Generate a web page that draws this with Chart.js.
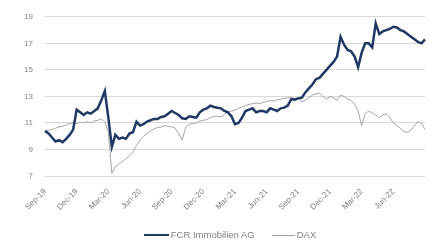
<!DOCTYPE html>
<html>
<head>
<meta charset="utf-8">
<script src="https://cdn.jsdelivr.net/npm/chart.js@4"></script>
<style>
  html, body { margin: 0; padding: 0; background: #fff; }
  #wrap { position: relative; width: 435px; height: 242px; }
  #legenda {
    position: absolute; left: 0; top: 228px; width: 435px; height: 14px;
    display: flex; justify-content: center; align-items: center;
    padding-left: 25px; box-sizing: border-box;
    font: 9.5px 'Liberation Sans', Arial, sans-serif; color: #808080;
    line-height: 14px; white-space: nowrap;
  }
  .item { display: flex; align-items: center; }
  .item + .item { margin-left: 17px; }
  .garis { display: inline-block; margin-right: 2px; }
</style>
</head>
<body>
<div id="wrap">
  <canvas id="fcrChart" width="435" height="242"></canvas>
  <div id="legenda"></div>
</div>
<script>
// quarterly tick labels (every 9th point, ~3 points per month)
var tickLabels = ['Sep-19', 'Dec-19', 'Mar-20', 'Jun-20', 'Sep-20', 'Dec-20',
                  'Mar-21', 'Jun-21', 'Sep-21', 'Dec-21', 'Mar-22', 'Jun-22'];

// FCR Immobilien AG share price (EUR)
var fcrWerte = [
  10.4, 10.2, 9.9, 9.6, 9.7, 9.55, 9.8, 10.1, 10.5,
  12.0, 11.8, 11.6, 11.8, 11.7, 11.9, 12.1, 12.7, 13.4,
  11.4, 9.2, 10.1, 9.8, 9.9, 9.8, 10.2, 10.3, 11.1,
  10.8, 10.9, 11.1, 11.2, 11.3, 11.3, 11.45, 11.5, 11.7,
  11.9, 11.75, 11.6, 11.35, 11.3, 11.5, 11.45, 11.4, 11.8,
  12.0, 12.1, 12.3, 12.2, 12.15, 12.1, 11.9, 11.8, 11.5,
  10.9, 11.0, 11.4, 11.9, 12.0, 12.1, 11.8, 11.9, 11.9,
  11.8, 12.1, 12.0, 11.9, 12.1, 12.15, 12.3, 12.8, 12.75,
  12.85, 12.9, 13.3, 13.6, 13.9, 14.3, 14.4, 14.7, 15.0,
  15.3, 15.6, 16.0, 17.5, 16.9, 16.5, 16.4, 16.0, 15.2,
  16.3, 17.0, 17.0, 16.7, 18.5, 17.7, 17.9, 18.0, 18.1,
  18.25, 18.2, 18.0, 17.9, 17.7, 17.5, 17.3, 17.1, 17.0,
  17.3
];

// DAX, rebased to the FCR start value
var daxWerte = [
  10.4, 10.45, 10.5, 10.6, 10.7, 10.75, 10.85, 10.95, 11.0,
  10.95, 11.05, 11.0, 11.1, 11.0, 11.15, 11.2, 11.3, 11.1,
  10.3, 7.2, 7.7, 7.9, 8.1, 8.3, 8.5, 8.8, 9.3,
  9.7, 10.0, 10.2, 10.4, 10.55, 10.65, 10.7, 10.8, 10.75,
  10.7, 10.6, 10.2, 9.7, 10.7, 10.9, 10.95, 11.0, 11.15,
  11.2, 11.25, 11.4, 11.5, 11.5, 11.45, 11.65, 11.8, 11.9,
  11.95, 12.1, 12.2, 12.3, 12.4, 12.45, 12.5, 12.45, 12.55,
  12.6, 12.7, 12.65, 12.75, 12.8, 12.85, 12.9, 12.9, 12.85,
  12.9, 12.6, 12.7, 12.9, 13.1, 13.2, 13.25, 13.0, 12.8,
  13.0, 12.9, 12.7, 13.1, 13.0, 12.8, 12.7, 12.4, 11.9,
  10.8, 11.7, 11.9, 11.75, 11.6, 11.4, 11.6, 11.7, 11.4,
  11.0, 10.8, 10.6, 10.35, 10.3, 10.45, 10.8, 11.1, 11.0,
  10.5
];

var labelPerTick = 9;
var sumbuX = fcrWerte.map(function (_, i) {
  return (i % labelPerTick === 0 && tickLabels[i / labelPerTick]) ? tickLabels[i / labelPerTick] : '';
});

var fontFamili = "'Liberation Sans', Arial, sans-serif";
var warnaTeks = '#808080';

var fcrChart = new Chart(document.getElementById('fcrChart'), {
    type: 'line',
    data: {
        labels: sumbuX,
        datasets: [{
            label: 'FCR Immobilien AG',
            data: fcrWerte,
            borderColor: '#1f3864',
            borderWidth: 2.5,
            pointRadius: 0,
            tension: 0
        }, {
            label: 'DAX',
            data: daxWerte,
            borderColor: '#a6a6a6',
            borderWidth: 1,
            pointRadius: 0,
            tension: 0
        }]
    },
    options: {
        responsive: false,
        animation: false,
        layout: { padding: { top: 14, right: 10, bottom: 24, left: 0 } },
        plugins: {
            tooltip: { enabled: false },
            legend: { display: false }
        },
        scales: {
            x: {
                grid: { display: false },
                border: { display: false },
                ticks: {
                    autoSkip: false,
                    maxRotation: 45,
                    minRotation: 45,
                    color: warnaTeks,
                    font: { family: fontFamili, size: 8 },
                    padding: 3
                },
                afterFit: function (s) { s.height = 42; }
            },
            y: {
                min: 7,
                max: 19,
                grid: { color: '#d9d9d9', drawTicks: false },
                border: { display: false },
                ticks: {
                    stepSize: 2,
                    color: warnaTeks,
                    font: { family: fontFamili, size: 8 },
                    padding: 12
                },
                afterFit: function (s) { s.width = 45; }
            }
        }
    }
});

// legenda HTML dari dataset chart
var legenda = document.getElementById('legenda');
fcrChart.data.datasets.forEach(function (ds, i) {
    var item = document.createElement('span');
    item.className = 'item';
    var garis = document.createElement('span');
    garis.className = 'garis';
    garis.style.width = (i === 0 ? 25 : 23) + 'px';
    garis.style.height = (ds.borderWidth) + 'px';
    garis.style.background = ds.borderColor;
    var teks = document.createElement('span');
    teks.textContent = ds.label;
    item.appendChild(garis);
    item.appendChild(teks);
    legenda.appendChild(item);
});
</script>
</body>
</html>
